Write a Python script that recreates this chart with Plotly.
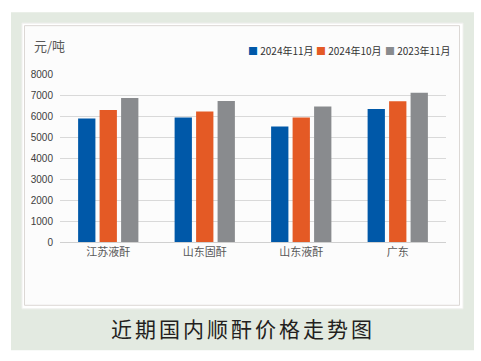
import plotly.graph_objects as go

categories = ["江苏液酐", "山东固酐", "山东液酐", "广东"]
series_names = ["2024年11月", "2024年10月", "2023年11月"]
values_2024_11 = [5880, 5930, 5500, 6330]
values_2024_10 = [6280, 6220, 5930, 6700]
values_2023_11 = [6860, 6710, 6450, 7110]
series_values = [values_2024_11, values_2024_10, values_2023_11]
colors = ["#0058A8", "#E45A25", "#898B8E"]
y_ticks = [0, 1000, 2000, 3000, 4000, 5000, 6000, 7000, 8000]
unit_label = "元/吨"
chart_title = "近期国内顺酐价格走势图"

W, H = 481, 361
L, R, T, B = 60, 35, 74, 118.5
pw, ph = W - L - R, H - T - B

def px(x):
    return (x - L) / pw

def py(y):
    return (H - B - y) / ph

fig = go.Figure()
for name, vals, col in zip(series_names, series_values, colors):
    fig.add_trace(go.Bar(x=categories, y=vals, name=name, marker=dict(color=col, line=dict(width=0)),
                         showlegend=False))

shapes = [
    dict(type="rect", xref="paper", yref="paper", x0=px(11), x1=px(474), y0=py(351), y1=py(12),
         fillcolor="#E3EAE1", line=dict(width=0), layer="below"),
    dict(type="rect", xref="paper", yref="paper", x0=px(22), x1=px(463), y0=py(309.5), y1=py(23),
         fillcolor="#FFFFFF", line=dict(color="#F0F0EE", width=1), layer="below"),
    dict(type="rect", xref="paper", yref="paper", x0=px(24.5), x1=px(459.5), y0=py(306), y1=py(25.5),
         fillcolor="#FCFCFC", line=dict(color="#DCD8D5", width=1), layer="below"),
]

annotations = [
    dict(text=unit_label, xref="paper", yref="paper", x=px(32), y=py(45), xanchor="left", yanchor="middle",
         showarrow=False, font=dict(size=13, color="#595959", family="Noto Sans CJK SC")),
    dict(text=f'<span style="letter-spacing:3px">{chart_title}</span>', xref="paper", yref="paper",
         x=px(243), y=py(329), xanchor="center", yanchor="middle",
         showarrow=False, font=dict(size=21, color="#231F20", family="Noto Sans CJK SC")),
]
legend_x = [246, 314, 383]
for name, col, lx in zip(series_names, colors, legend_x):
    annotations.append(dict(
        text=f'<span style="color:{col}">■</span> {name}', xref="paper", yref="paper",
        x=px(lx), y=py(50), xanchor="left", yanchor="middle", showarrow=False,
        font=dict(size=10, color="#333333", family="Noto Sans CJK SC")))

fig.update_layout(
    width=W, height=H,
    margin=dict(l=L, r=R, t=T, b=B),
    paper_bgcolor="white", plot_bgcolor="rgba(0,0,0,0)",
    barmode="group", bargap=0.332, bargroupgap=0.195,
    shapes=shapes, annotations=annotations,
    font=dict(family="Noto Sans CJK SC"),
)
fig.update_yaxes(range=[0, 8000], tickvals=y_ticks, ticktext=[str(v) for v in y_ticks],
                 showgrid=True, gridcolor="#D9D9D9", gridwidth=1, zeroline=False, showline=False,
                 ticks="", ticklabelstandoff=6,
                 tickfont=dict(size=10, color="#404040", family="Liberation Sans"))
fig.update_xaxes(showline=True, linecolor="#D0D0D0", linewidth=1, ticks="",
                 tickfont=dict(size=11, color="#595959", family="Noto Sans CJK SC"))

fig.write_html("out.html", config={"displayModeBar": False},
               post_script="document.body.style.margin='0';document.body.style.overflow='hidden';")
